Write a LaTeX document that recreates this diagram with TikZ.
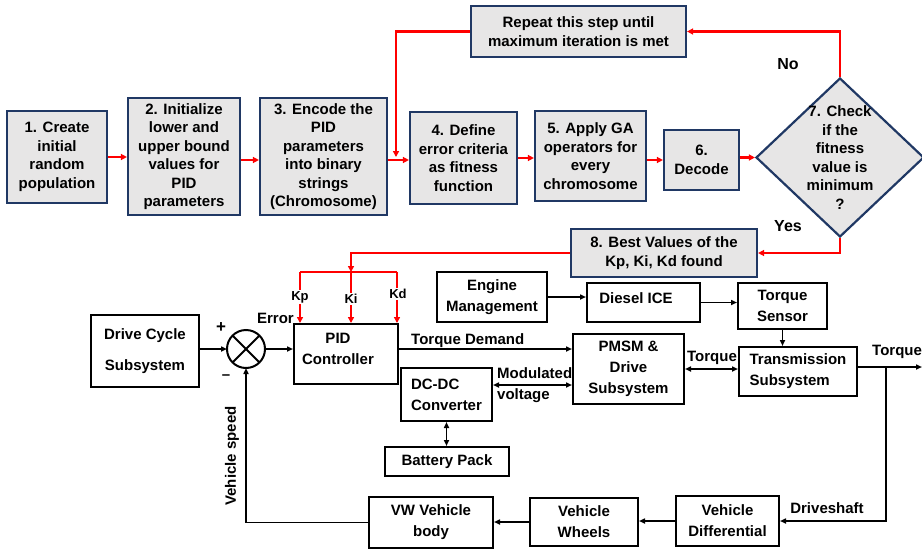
\documentclass[tikz,border=0pt]{standalone}
\usepackage{fontspec}
\setmainfont{Liberation Sans}
\usetikzlibrary{arrows.meta,shapes.geometric}
\definecolor{navy}{HTML}{203864}
\definecolor{boxgray}{HTML}{E7E6E6}
\begin{document}
\begin{tikzpicture}[x=1pt,y=-1pt,
  flowbox/.style={draw=navy,fill=boxgray,line width=2.2pt,inner sep=0pt,align=center,
    font=\fontsize{15}{18.5}\selectfont\bfseries},
  sysbox/.style={draw=black,fill=white,line width=2pt,inner sep=0pt,align=center,
    font=\fontsize{15}{21}\selectfont\bfseries},
  lbl/.style={inner sep=0pt,align=left,font=\fontsize{15}{21}\selectfont\bfseries},
  klbl/.style={inner sep=1pt,fill=white,font=\fontsize{13}{15}\selectfont\bfseries},
  redline/.style={draw=red,line width=2.2pt},
  redarrow/.style={redline,-{Triangle[length=6pt,width=6pt]}},
  blkline/.style={draw=black,line width=1.9pt},
  blkarrow/.style={blkline,-{Triangle[length=6pt,width=5pt]}},
  blkboth/.style={blkline,{Triangle[length=6pt,width=5pt]}-{Triangle[length=6pt,width=5pt]}},
]
\useasboundingbox (0,0) rectangle (922,549);

% ---------------- GA tuning flow ----------------
\node[flowbox,minimum width=100pt,minimum height=92pt] (b1) at (57,157)
  {1. Create\\initial\\random\\population};
\node[flowbox,minimum width=112pt,minimum height=117pt] (b2) at (184,156.5)
  {2. Initialize\\lower and\\upper bound\\values for\\PID\\parameters};
\node[flowbox,minimum width=127pt,minimum height=117pt] (b3) at (323.5,156.5)
  {3. Encode the\\PID\\parameters\\into binary\\strings\\(Chromosome)};
\node[flowbox,minimum width=107pt,minimum height=92pt] (b4) at (463.5,158)
  {4. Define\\error criteria\\as fitness\\function};
\node[flowbox,minimum width=111pt,minimum height=90pt] (b5) at (590.5,156)
  {5. Apply GA\\operators for\\every\\chromosome};
\node[flowbox,minimum width=75pt,minimum height=60pt] (b6) at (701.5,160)
  {6.\\Decode};
\node[flowbox,minimum width=215pt,minimum height=51pt] (rep) at (578.5,31.5)
  {Repeat this step until\\maximum iteration is met};
\node[flowbox,shape=diamond,minimum width=168pt,minimum height=159pt] (d) at (840,157.5) {};
\node[inner sep=0pt,align=center,font=\fontsize{15}{18.5}\selectfont\bfseries] (dtext) at (840,157.5)
  {7. Check\\if the\\fitness\\value is\\minimum\\?};
\node[flowbox,minimum width=186pt,minimum height=48pt] (b8) at (664,253)
  {8. Best Values of the\\Kp, Ki, Kd found};

\node[lbl,font=\fontsize{16}{19}\selectfont\bfseries] (no) at (788,64) {No};
\node[lbl,font=\fontsize{16}{19}\selectfont\bfseries] (yes) at (788,226) {Yes};

\draw[redarrow] (b1.east) -- (b1.east -| b2.west);
\draw[redarrow] ([yshift=-3.5pt]b2.east) -- ([yshift=-3.5pt]b2.east -| b3.west);
\draw[redarrow] ([yshift=-3.5pt]b3.east) -- ([yshift=-3.5pt]b3.east -| b4.west);
\draw[redarrow] (b4.east) -- (b4.east -| b5.west);
\draw[redarrow] (b6.west -| b5.east) -- (b6.west);
\draw[redarrow] (d.west -| b6.east) -- (d.west);
\draw[redarrow] (d.north) |- (rep.east);
\coordinate (loopin) at (396,157);
\draw[redarrow] (rep.west) -| (loopin);
\draw[redarrow] (d.south) |- (b8.east);

% ---------------- Vehicle / controller loop ----------------
\node[sysbox,minimum width=108pt,minimum height=72pt,font=\fontsize{15}{31}\selectfont\bfseries]
  (drive) at (145,351) {Drive Cycle\\Subsystem};
\node[draw=black,line width=2pt,circle,minimum size=38pt,inner sep=0pt,outer sep=0pt] (sum) at (246,349) {};
\draw[blkline] (sum.north east) -- (sum.south west);
\draw[blkline] (sum.north west) -- (sum.south east);
\node[sysbox,minimum width=104pt,minimum height=60pt] (pid) at (346,354) {};
\node[lbl,align=center] (pidtext) at (338,349) {PID\\Controller};
\node[sysbox,minimum width=110pt,minimum height=50pt] (engine) at (492,297) {Engine\\Management};
\node[sysbox,minimum width=113pt,minimum height=39pt] (diesel) at (643.5,302.5) {};
\node[lbl] (dieseltext) at (636,298) {Diesel ICE};
\node[sysbox,minimum width=89pt,minimum height=46pt] (sensor) at (782.5,306) {Torque\\Sensor};
\node[sysbox,minimum width=111pt,minimum height=70pt] (pmsm) at (628.5,369) {PMSM \&\\Drive\\Subsystem};
\node[sysbox,minimum width=118pt,minimum height=49pt,align=left] (trans) at (798,371.5) {Transmission\\Subsystem};
\node[sysbox,minimum width=91pt,minimum height=53pt,align=left] (dc) at (446.5,394.5) {DC-DC\\Converter};
\node[sysbox,minimum width=124pt,minimum height=29pt] (bat) at (447,461.5) {Battery Pack};
\node[sysbox,minimum width=124pt,minimum height=51pt] (vw) at (431,522.5) {VW Vehicle\\body};
\node[sysbox,minimum width=108pt,minimum height=48pt] (wheels) at (584,522) {Vehicle\\Wheels};
\node[sysbox,minimum width=103pt,minimum height=50pt] (diff) at (727.5,521) {Vehicle\\Differential};

% gain lines from the optimiser
\coordinate (kjoin) at (351,272);
\coordinate (kpbar) at (300,272);
\coordinate (kdbar) at (397,272);
\draw[redarrow] (b8.west) -| (kjoin);
\draw[redline] (kpbar) -- (kdbar);
\draw[redarrow] (kpbar) -- (kpbar |- pid.north);
\draw[redarrow] (kjoin) -- (kjoin |- pid.north);
\draw[redarrow] (kdbar) -- (kdbar |- pid.north);
\node[klbl] (kp) at (300,297) {Kp};
\node[klbl] (ki) at (351,299) {Ki};
\node[klbl] (kd) at (398,294) {Kd};

% signal connectors
\draw[blkarrow] (sum.west -| drive.east) -- (sum.west);
\draw[blkarrow] (sum.east) -- (sum.east -| pid.west);
\draw[blkarrow] (pid.east |- sum.east) -- (pid.east |- sum.east -| pmsm.west);
\draw[blkarrow] (engine.east) -- (engine.east -| diesel.west);
\draw[blkarrow] (diesel.east) -- (diesel.east -| sensor.west);
\draw[blkarrow] (sensor.south) -- (sensor.south |- trans.north);
\draw[blkboth] (pmsm.east) -- (pmsm.east -| trans.west);
\draw[blkboth] ([yshift=9.5pt]dc.east) -- ([yshift=9.5pt]dc.east -| pmsm.west);
\draw[blkboth] (dc.south) -- (dc.south |- bat.north);
\coordinate (tq) at (886,367);
\coordinate (outR) at (922,367);
\draw[blkarrow] (tq -| trans.east) -- (outR);
\draw[blkarrow] (tq) |- (diff.east);
\draw[blkarrow] (diff.west) -- (diff.west -| wheels.east);
\draw[blkarrow] (wheels.west) -- (wheels.west -| vw.east);
\draw[blkarrow] (vw.west) -| (sum.south);

% signal labels
\node[lbl,font=\fontsize{17}{21}\selectfont\bfseries] (plus) at (221,328) {+};
\node[lbl] (minus) at (226,377) {--};
\node[lbl,anchor=east] (err) at (294,318) {Error};
\node[lbl,anchor=west] (tqd) at (411,341) {Torque Demand};
\node[lbl] (tqm) at (712,358) {Torque};
\node[lbl,anchor=north west] (modv) at (497,367) {Modulated\\voltage};
\node[lbl,anchor=west] (tqout) at (872,352) {Torque};
\node[lbl] (shaft) at (827,508) {Driveshaft};
\node[lbl,rotate=90] (vspeed) at (232,456) {Vehicle speed};
\end{tikzpicture}
\end{document}
